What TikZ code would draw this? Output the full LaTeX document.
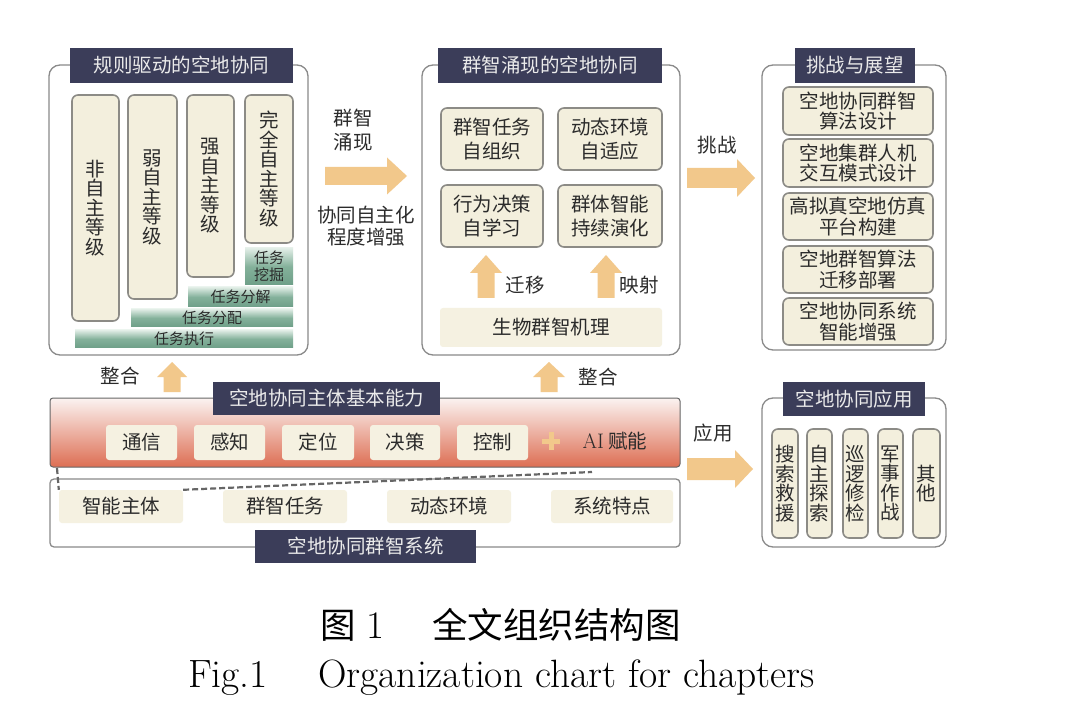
\documentclass[tikz,border=0pt]{standalone}
\usepackage{fontspec}
\newfontfamily\cjk{Noto Sans CJK SC}
\usetikzlibrary{arrows.meta}
\definecolor{navy}{HTML}{3B3D59}
\definecolor{cream}{HTML}{F3EFDD}
\definecolor{creamL}{HTML}{F5F1E1}
\definecolor{boxline}{HTML}{8C8B86}
\definecolor{panelline}{HTML}{8A8A8A}
\definecolor{arrowc}{HTML}{F2C88B}
\definecolor{txt}{HTML}{2B2B2B}
\definecolor{greenA}{HTML}{6E9F88}
\definecolor{greenM}{HTML}{84B19B}
\definecolor{greenT}{HTML}{E2EEE7}
\definecolor{bandT}{HTML}{FBF3F1}
\definecolor{bandM}{HTML}{F0BBAC}
\definecolor{bandB}{HTML}{DD6E53}
\newcommand\fs[2]{\fontsize{#1}{#2}\selectfont}
\newcommand\bx[7][]{\node[#1, minimum width={#5-#3}, minimum height={#6-#4}] (#2) at ({(#3+#5)/2},{(#4+#6)/2}) {#7};}
\newcommand\harr[6]{\fill[arrowc] (#1,#4-#5) -- (#2,#4-#5) -- (#2,#4-#6) -- (#3,#4) -- (#2,#4+#6) -- (#2,#4+#5) -- (#1,#4+#5) -- cycle;}
\newcommand\varr[6]{\fill[arrowc] (#1-#5,#2) -- (#1-#5,#3) -- (#1-#6,#3) -- (#1,#4) -- (#1+#6,#3) -- (#1+#5,#3) -- (#1+#5,#2) -- cycle;}
\begin{document}
\begin{tikzpicture}[x=1pt,y=-1pt,
  panel/.style={draw=panelline, line width=1.3pt, rounded corners=11pt, fill=white},
  tab/.style={fill=navy, text=white!92!black, font=\cjk\fs{19.5}{22}, inner sep=0pt},
  cbox/.style={draw=boxline, line width=1.6pt, fill=cream, rounded corners=6pt, text=txt, font=\cjk\fs{19.5}{23.5}, align=center, inner sep=0pt},
  rbox/.style={cbox, font=\cjk\fs{19.5}{20.5}},
  vbox/.style={cbox, font=\cjk\fs{19.5}{19.5}},
  gbar/.style={top color=greenT, bottom color=greenA, middle color=greenM, text=txt, font=\cjk\fs{15}{17}, align=center, inner sep=0pt},
  pbox/.style={fill=creamL, rounded corners=3pt, text=txt, font=\cjk\fs{19.5}{22}, inner sep=0pt},
  band/.style={top color=bandT, middle color=bandM, bottom color=bandB, draw=black!60, line width=1pt, rounded corners=3pt},
  sysrect/.style={draw=panelline, line width=1.3pt, rounded corners=4pt, fill=white},
  lbl/.style={text=txt, font=\cjk\fs{19.5}{24}, align=center, inner sep=0pt},
  dashl/.style={draw=black!60, line width=2.2pt, dash pattern=on 6pt off 3pt},
  captext/.style={anchor=base west, inner sep=0pt, text=black},
]
\fill[white] (0,0) rectangle (1080,714);
\useasboundingbox (0,0) rectangle (1080,714);

% ---------- left panel ----------
\bx[panel]{P1}{49}{65}{308}{355}{}
\bx[vbox]{L1}{72}{95}{119}{321}{非\\自\\主\\等\\级}
\bx[vbox]{L2}{128}{95}{177}{299}{弱\\自\\主\\等\\级}
\bx[vbox]{L3}{187}{95}{234}{277}{强\\自\\主\\等\\级}
\bx[vbox]{L4}{245}{95}{293}{243}{完\\全\\自\\主\\等\\级}
\bx[gbar]{G4}{245}{248}{293}{285}{任务\\挖掘}
\bx[gbar]{G3}{188}{287}{293}{307}{任务分解}
\bx[gbar]{G2}{131}{309}{293}{327}{任务分配}
\bx[gbar]{G1}{75}{330}{293}{348}{任务执行}
\bx[tab]{T1}{70}{48}{293}{83}{规则驱动的空地协同}

% ---------- middle panel ----------
\bx[panel]{P2}{422}{65}{680}{355}{}
\bx[cbox]{M1}{441}{108}{543}{170}{群智任务\\自组织}
\bx[cbox]{M2}{558}{108}{662}{170}{动态环境\\自适应}
\bx[cbox]{M3}{441}{185}{543}{247}{行为决策\\自学习}
\bx[cbox]{M4}{558}{185}{662}{247}{群体智能\\持续演化}
\bx[pbox]{M5}{440}{308}{662}{347}{生物群智机理}
\bx[tab]{T2}{438}{48}{662}{83}{群智涌现的空地协同}
\varr{486}{298}{273}{255}{8.5}{16}
\varr{606}{298}{273}{255}{8.5}{16}
\node[lbl] (t7) at (525,285) {迁移};
\node[lbl] (t8) at (639,285) {映射};

% ---------- right top panel ----------
\bx[panel]{P3}{762}{65}{946}{350}{}
\bx[rbox]{R1}{783}{87}{933}{135}{空地协同群智\\算法设计}
\bx[rbox]{R2}{783}{139}{933}{187}{空地集群人机\\交互模式设计}
\bx[rbox]{R3}{783}{193}{933}{240}{高拟真空地仿真\\平台构建}
\bx[rbox]{R4}{783}{246}{933}{293}{空地群智算法\\迁移部署}
\bx[rbox]{R5}{783}{298}{933}{345}{空地协同系统\\智能增强}
\bx[tab]{T3}{795}{48}{915}{83}{挑战与展望}

% ---------- right bottom panel ----------
\bx[panel]{P4}{762}{398}{946}{547}{}
\bx[vbox]{A1}{772}{429}{798}{538}{搜\\索\\救\\援}
\bx[vbox]{A2}{807}{429}{832}{538}{自\\主\\探\\索}
\bx[vbox]{A3}{843}{429}{868}{538}{巡\\逻\\修\\检}
\bx[vbox]{A4}{878}{429}{903}{538}{军\\事\\作\\战}
\bx[vbox]{A5}{913}{429}{940}{538}{其\\他}
\bx[tab]{T4}{783}{382}{925}{416}{空地协同应用}

% ---------- bottom band ----------
\bx[band]{B1}{50}{398}{680}{467}{}
\bx[pbox]{C1}{106}{425}{177}{460}{通信}
\bx[pbox]{C2}{194}{425}{265}{460}{感知}
\bx[pbox]{C3}{282}{425}{354}{460}{定位}
\bx[pbox]{C4}{370}{425}{440}{460}{决策}
\bx[pbox]{C5}{457}{425}{528}{460}{控制}
\node[minimum size=18pt, inner sep=0pt, path picture={
  \draw[arrowc, line width=5pt] (path picture bounding box.north) -- (path picture bounding box.south)
       (path picture bounding box.west) -- (path picture bounding box.east);}] (plus) at (551,441) {};
\node[lbl] (ai) at (615,441) {{\rmfamily\fs{21}{24}AI} 赋能};
\bx[tab]{T5}{213}{382}{440}{415}{空地协同主体基本能力}

\bx[sysrect]{S0}{50}{479}{680}{547}{}
\bx[pbox]{S1}{59}{490}{183}{523}{智能主体}
\bx[pbox]{S2}{223}{490}{347}{523}{群智任务}
\bx[pbox]{S3}{387}{490}{511}{523}{动态环境}
\bx[pbox]{S4}{551}{490}{673}{523}{系统特点}
\bx[tab]{T6}{255}{530}{476}{563}{空地协同群智系统}
\coordinate (dA) at (57,468);
\coordinate (dB) at (592,472);
\draw[dashl] (dA) -- (S1.north west);
\draw[dashl] (S1.north east) -- (dB);

% ---------- block arrows and labels ----------
\harr{325}{387}{407}{176}{9}{18.5}
\harr{687}{737}{755}{178}{10}{19}
\harr{687}{735}{753}{469}{11}{19}
\varr{172}{392}{377}{362}{8.5}{15}
\varr{549}{392}{377}{362}{8.5}{16}
\node[lbl] (t1) at (353,130) {群智\\涌现};
\node[lbl, font=\cjk\fs{19.5}{22}] (t2) at (366,226) {协同自主化\\程度增强};
\node[lbl] (t3) at (717,145) {挑战};
\node[lbl] (t4) at (713,433) {应用};
\node[lbl] (t5) at (120,376) {整合};
\node[lbl] (t6) at (598,377) {整合};

% ---------- caption ----------
\node[captext, font=\cjk\fs{35.5}{38}] (c1) at (320,638) {图};
\node[captext, font=\fs{39}{40}] (c1b) at (366,638) {1};
\node[captext, font=\cjk\fs{35.5}{38}] (c2) at (432,638) {全文组织结构图};
\node[captext, font=\fs{39.5}{42}] (c3) at (188,687) {Fig.1};
\node[captext, font=\fs{39.5}{42}] (c4) at (318,687) {Organization chart for chapters};
\end{tikzpicture}
\end{document}
